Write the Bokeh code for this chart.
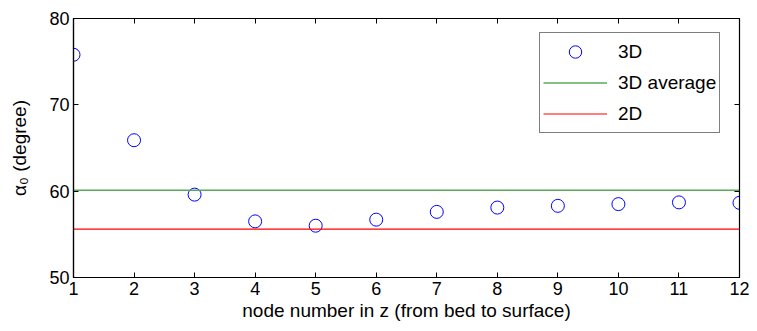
from bokeh.plotting import figure
from bokeh.models import LinearAxis, Legend, LegendItem, FixedTicker, Range1d, ColumnDataSource
from bokeh.embed import file_html
from bokeh.resources import INLINE

node = [1, 2, 3, 4, 5, 6, 7, 8, 9, 10, 11, 12]
alpha3d = [75.8, 65.9, 59.6, 56.5, 56.0, 56.7, 57.6, 58.1, 58.3, 58.5, 58.7, 58.65]
avg3d = 60.1
val2d = 55.6
xticks = list(range(1, 13))
yticks = [50, 60, 70, 80]

FONT = "Liberation Sans"

p = figure(width=749, height=323, output_backend="svg", toolbar_location=None,
           x_range=Range1d(1, 12), y_range=Range1d(50, 80),
           min_border_left=73, min_border_right=10, min_border_top=18, min_border_bottom=46)
p.xgrid.visible = False
p.ygrid.visible = False
p.outline_line_color = "black"
p.outline_line_width = 1.2
p.background_fill_color = "white"

src = ColumnDataSource(dict(x=node, y=alpha3d))
r_pts = p.scatter("x", "y", source=src, marker="circle", size=13, fill_color=None,
                  line_color="#0000ff", line_width=1)
r_avg = p.line([node[0], node[-1]], [avg3d, avg3d], line_color="#5aa85a", line_width=1.6)
r_2d = p.line([node[0], node[-1]], [val2d, val2d], line_color="#ff0000", line_width=1.2)

for ax in (p.xaxis[0], p.yaxis[0]):
    ax.major_tick_in = 5
    ax.major_tick_out = 0
    ax.minor_tick_in = 0
    ax.minor_tick_out = 0
    ax.major_tick_line_color = "black"
    ax.major_label_text_font = FONT
    ax.major_label_text_font_size = "18px"
    ax.major_label_text_color = "black"
    ax.axis_label_text_font = FONT
    ax.axis_label_text_font_size = "19px"
    ax.axis_label_text_font_style = "normal"
    ax.axis_label_text_color = "black"
    ax.axis_line_color = "black"
    ax.axis_line_width = 1.2

p.xaxis[0].ticker = FixedTicker(ticks=xticks)
p.yaxis[0].ticker = FixedTicker(ticks=yticks)
p.xaxis[0].axis_label = "node number in z (from bed to surface)"
p.yaxis[0].axis_label = "α₀ (degree)"
p.xaxis[0].major_label_standoff = 4
p.xaxis[0].axis_label_standoff = 2
p.yaxis[0].major_label_standoff = 4
p.yaxis[0].axis_label_standoff = 16

top = LinearAxis(ticker=FixedTicker(ticks=xticks), major_label_text_font_size="0px",
                 major_tick_in=5, major_tick_out=0, minor_tick_in=0, minor_tick_out=0,
                 axis_line_color="black")
right = LinearAxis(ticker=FixedTicker(ticks=yticks), major_label_text_font_size="0px",
                   major_tick_in=5, major_tick_out=0, minor_tick_in=0, minor_tick_out=0,
                   axis_line_color="black")
top.major_label_overrides = {t: "" for t in xticks}
right.major_label_overrides = {t: "" for t in yticks}
p.add_layout(top, "above")
p.add_layout(right, "right")

legend = Legend(items=[LegendItem(label="3D", renderers=[r_pts]),
                       LegendItem(label="3D average", renderers=[r_avg]),
                       LegendItem(label="2D", renderers=[r_2d])],
                location=(466, 144))
legend.label_text_font = FONT
legend.label_text_font_size = "19px"
legend.label_text_color = "black"
legend.glyph_width = 64
legend.glyph_height = 31
legend.label_height = 31
legend.spacing = 0
legend.padding = 3
legend.margin = 0
legend.label_standoff = 11
legend.border_line_color = "black"
legend.border_line_width = 1.2
legend.background_fill_alpha = 1
p.add_layout(legend, "center")

open("out.html", "w").write(file_html(p, INLINE))
